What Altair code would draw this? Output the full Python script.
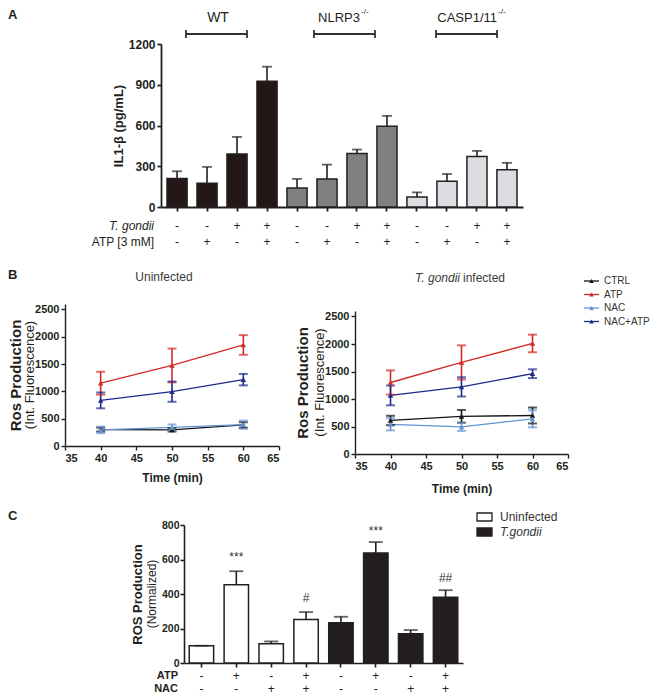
import altair as alt
import pandas as pd

FONT = "Liberation Sans, Arial, Helvetica, sans-serif"
INK = "#231f20"

# ---------------- Panel A data ----------------
a_ids = ["WT-1", "WT-2", "WT-3", "WT-4", "NL-1", "NL-2", "NL-3", "NL-4", "CA-1", "CA-2", "CA-3", "CA-4"]
a_groups = ["WT"] * 4 + ["NLRP3"] * 4 + ["CASP1/11"] * 4
a_values = [209, 175, 391, 925, 140, 207, 393, 595, 74, 189, 371, 275]
a_err = [54, 120, 125, 108, 67, 105, 30, 76, 34, 54, 42, 50]
a_tgondii = ["-", "-", "+", "+", "-", "-", "+", "+", "-", "-", "+", "+"]
a_atp = ["-", "+", "-", "+", "-", "+", "-", "+", "-", "+", "-", "+"]
a_colors = ["#231815", "#808080", "#dcdde2"]
a_ticks = [0, 300, 600, 900, 1200]

# ---------------- Panel B data ----------------
b_series = ["CTRL", "ATP", "NAC", "NAC+ATP"]
b_colors = ["#151515", "#d22b26", "#6393d6", "#1c2a8a"]
b_times = [40, 50, 60]
b_xticks = [35, 40, 45, 50, 55, 60, 65]
b_yticks = [0, 500, 1000, 1500, 2000, 2500]
b_uninf_ctrl = [300, 295, 385]
b_uninf_ctrl_err = [35, 30, 50]
b_uninf_atp = [1150, 1475, 1850]
b_uninf_atp_err = [210, 310, 180]
b_uninf_nac = [295, 340, 390]
b_uninf_nac_err = [60, 55, 75]
b_uninf_nacatp = [835, 995, 1215]
b_uninf_nacatp_err = [145, 185, 105]
b_inf_ctrl = [610, 685, 700]
b_inf_ctrl_err = [85, 115, 145]
b_inf_atp = [1300, 1665, 2010]
b_inf_atp_err = [220, 310, 160]
b_inf_nac = [540, 495, 640]
b_inf_nac_err = [110, 75, 155]
b_inf_nacatp = [1065, 1220, 1460]
b_inf_nacatp_err = [180, 175, 80]

# ---------------- Panel C data ----------------
c_ids = ["C1", "C2", "C3", "C4", "C5", "C6", "C7", "C8"]
c_infection = ["Uninfected"] * 4 + ["T.gondii"] * 4
c_values = [100, 453, 112, 252, 233, 638, 170, 381]
c_err = [0, 79, 13, 43, 35, 63, 21, 41]
c_atp = ["-", "+", "-", "+", "-", "+", "-", "+"]
c_nac = ["-", "-", "+", "+", "-", "-", "+", "+"]
c_marks = ["", "***", "", "#", "", "***", "", "##"]
c_mark_y = [0, 612, 0, 378, 0, 766, 0, 494]
c_ticks = [0, 200, 400, 600, 800]


def txt(s, x, y, size=12, weight="normal", style="normal", align="center",
        baseline="middle", color=INK, angle=0):
    return alt.Chart(pd.DataFrame({"t": [s]})).mark_text(
        font=FONT, fontSize=size, fontWeight=weight, fontStyle=style,
        align=align, baseline=baseline, color=color, angle=angle
    ).encode(x=alt.value(x), y=alt.value(y), text="t:N")


def seg(x1, x2, y1, y2, width=1.8, color="#333333"):
    return alt.Chart(pd.DataFrame({"a": [0]})).mark_rule(
        strokeWidth=width, color=color
    ).encode(x=alt.value(x1), x2=alt.value(x2), y=alt.value(y1), y2=alt.value(y2))


def spacer(w, h, letter="", ly=0):
    return txt(letter, 0, ly, size=13, weight="bold", align="left",
               baseline="top").properties(width=w, height=h)


IND = dict(fill="independent", stroke="independent", color="independent",
           x="independent", y="independent")
INDL = dict(fill="independent", stroke="independent", color="independent")

# ================= Panel A =================
AW, AH = 362, 163
dfA = pd.DataFrame({"id": a_ids, "group": a_groups, "value": a_values,
                    "err": a_err, "tg": a_tgondii, "atp": a_atp})
dfA["top"] = dfA["value"] + dfA["err"]

xA = alt.X("id:N", sort=a_ids, title=None,
           scale=alt.Scale(paddingInner=0.33, paddingOuter=0.2),
           axis=alt.Axis(labels=False, ticks=True, tickSize=4, tickWidth=1.8,
                         domainWidth=1.8))
xA2 = alt.X("id:N", sort=a_ids)
yA = alt.Y("value:Q", scale=alt.Scale(domain=[0, 1200]),
           axis=alt.Axis(values=a_ticks, tickCount=len(a_ticks), format="d",
                         title="IL1-β (pg/mL)", labelOverlap=False,
                         titleFontSize=13, titleX=-43, titleY=AH / 2,
                         titleAlign="center", titleBaseline="middle",
                         labelFontSize=12, tickSize=4, labelPadding=2,
                         domainWidth=1.8, tickWidth=1.8))

barsA = alt.Chart(dfA).mark_bar(stroke=INK, strokeWidth=1.5).encode(
    x=xA, y=yA,
    fill=alt.Fill("group:N", scale=alt.Scale(domain=["WT", "NLRP3", "CASP1/11"],
                                             range=a_colors), legend=None))
errA = alt.Chart(dfA).mark_rule(color=INK, strokeWidth=1.6).encode(
    x=xA2, y="value:Q", y2="top:Q")
capA = alt.Chart(dfA).mark_tick(color=INK, thickness=1.8, size=10,
                                orient="horizontal").encode(x=xA2, y="top:Q")
tgA = alt.Chart(dfA).mark_text(font=FONT, fontSize=12, color=INK).encode(
    x=xA2, y=alt.value(AH + 19), text="tg:N")
atpA = alt.Chart(dfA).mark_text(font=FONT, fontSize=12, color=INK).encode(
    x=xA2, y=alt.value(AH + 35), text="atp:N")

panelA = alt.layer(
    barsA, errA, capA, tgA, atpA,
    txt("T. gondii", -7, AH + 19, size=12, style="italic", align="right"),
    txt("ATP [3 mM]", -7, AH + 35, size=12, align="right"),
    txt("WT", 57, -26, size=14),
    txt("NLRP3", 199, -26, size=13, align="right"),
    txt("-/-", 200, -32, size=8, align="left"),
    txt("CASP1/11", 336, -26, size=13, align="right"),
    txt("-/-", 337, -32, size=8, align="left"),
    seg(25, 86, -10, -10), seg(25, 25, -14, -6), seg(86, 86, -14, -6),
    seg(153, 214, -10, -10), seg(153, 153, -14, -6), seg(214, 214, -14, -6),
    seg(275, 336, -10, -10), seg(275, 275, -14, -6), seg(336, 336, -14, -6),
).properties(width=AW, height=AH)


# ================= Panel B =================
CS = alt.Scale(domain=b_series, range=b_colors)


def legend_layers(x0, y0, dy):
    layers = []
    for i, s in enumerate(b_series):
        d = pd.DataFrame({"series": [s]})
        yy = y0 + i * dy
        layers.append(alt.Chart(d).mark_rule(strokeWidth=1.3).encode(
            x=alt.value(x0), x2=alt.value(x0 + 15), y=alt.value(yy),
            stroke=alt.Stroke("series:N", scale=CS, legend=None)))
        layers.append(alt.Chart(d).mark_point(shape="triangle-up", filled=True,
                                              size=22, opacity=1).encode(
            x=alt.value(x0 + 7.5), y=alt.value(yy),
            fill=alt.Fill("series:N", scale=CS, legend=None)))
        layers.append(alt.Chart(d).mark_text(font=FONT, fontSize=10, color="#333333",
                                             align="left", baseline="middle").encode(
            x=alt.value(x0 + 20), y=alt.value(yy), text="series:N"))
    return layers


def ros_panel(vals, errs, width, height, yrange, title_x, sub_x, title_y_off, legend):
    rows = []
    for s in b_series:
        for t, v, e in zip(b_times, vals[s], errs[s]):
            rows.append({"series": s, "time": t, "value": v,
                         "lo": v - e, "hi": v + e})
    df = pd.DataFrame(rows)
    ymid = (yrange[0] + yrange[1]) / 2
    yscale = alt.Scale(domain=[0, 2500], range=yrange)
    x = alt.X("time:Q", scale=alt.Scale(domain=[35, 65], nice=False),
              axis=alt.Axis(values=b_xticks, tickCount=len(b_xticks),
                            title="Time (min)", labelOverlap=False,
                            titleFontSize=12, titleY=title_y_off,
                            titleBaseline="middle", labelFontSize=11,
                            tickSize=4, labelPadding=2, domainWidth=1.4,
                            tickWidth=1.4))
    y = alt.Y("value:Q", scale=yscale,
              axis=alt.Axis(values=b_yticks, tickCount=len(b_yticks), format="d",
                            labelOverlap=False,
                            title="Ros Production", titleFontSize=15,
                            titleX=title_x, titleY=ymid, titleAlign="center",
                            titleBaseline="middle", labelFontSize=11,
                            tickSize=4, labelPadding=2, domainWidth=1.4,
                            tickWidth=1.4))
    line = alt.Chart(df).mark_line(strokeWidth=1.3).encode(
        x=x, y=y, stroke=alt.Stroke("series:N", scale=CS, legend=None),
        detail="series:N")
    rule = alt.Chart(df).mark_rule(strokeWidth=1.6).encode(
        x="time:Q", y="lo:Q", y2="hi:Q",
        stroke=alt.Stroke("series:N", scale=CS, legend=None))
    cap_lo = alt.Chart(df).mark_tick(thickness=2, size=9, orient="horizontal").encode(
        x="time:Q", y="lo:Q", color=alt.Color("series:N", scale=CS, legend=None))
    cap_hi = alt.Chart(df).mark_tick(thickness=2, size=9, orient="horizontal").encode(
        x="time:Q", y="hi:Q", color=alt.Color("series:N", scale=CS, legend=None))
    pts = alt.Chart(df).mark_point(shape="triangle-up", filled=True, size=30,
                                   opacity=1).encode(
        x="time:Q", y="value:Q",
        fill=alt.Fill("series:N", scale=CS, legend=None))
    sub = txt("(Int. Fluorescence)", sub_x, ymid, size=13, angle=270)
    layers = [line, rule, cap_lo, cap_hi, pts, sub]
    if legend:
        layers += legend_layers(width + 16, -23, 13.5)
    return alt.layer(*layers).properties(width=width, height=height)


uninf_vals = {"CTRL": b_uninf_ctrl, "ATP": b_uninf_atp, "NAC": b_uninf_nac,
              "NAC+ATP": b_uninf_nacatp}
uninf_errs = {"CTRL": b_uninf_ctrl_err, "ATP": b_uninf_atp_err,
              "NAC": b_uninf_nac_err, "NAC+ATP": b_uninf_nacatp_err}
inf_vals = {"CTRL": b_inf_ctrl, "ATP": b_inf_atp, "NAC": b_inf_nac,
            "NAC+ATP": b_inf_nacatp}
inf_errs = {"CTRL": b_inf_ctrl_err, "ATP": b_inf_atp_err, "NAC": b_inf_nac_err,
            "NAC+ATP": b_inf_nacatp_err}

panelB1 = alt.layer(
    ros_panel(uninf_vals, uninf_errs, 214, 142, [142, 0], -49.5, -35.5, 31, False),
    txt("Uninfected", 99, -27, size=12, color="#3a3a3a"),
)
panelB2 = alt.layer(
    ros_panel(inf_vals, inf_errs, 213, 150, [150, 7], -53, -35, 34, True),
    txt("T. gondii", 105, -26, size=12, style="italic", align="right", color="#3a3a3a"),
    txt("infected", 108, -26, size=12, align="left", color="#3a3a3a"),
)

# ================= Panel C =================
CW, CH = 279, 138
dfC = pd.DataFrame({"id": c_ids, "inf": c_infection, "value": c_values,
                    "err": c_err, "atp": c_atp, "nac": c_nac,
                    "mark": c_marks, "my": c_mark_y})
dfC["top"] = dfC["value"] + dfC["err"]
xC = alt.X("id:N", sort=c_ids, title=None,
           scale=alt.Scale(paddingInner=0.3, paddingOuter=0.15),
           axis=alt.Axis(labels=False, ticks=True, tickSize=4, tickWidth=1.6,
                         domainWidth=1.6))
xC2 = alt.X("id:N", sort=c_ids)
yC = alt.Y("value:Q", scale=alt.Scale(domain=[0, 800]),
           axis=alt.Axis(values=c_ticks, tickCount=len(c_ticks), format="d",
                         labelOverlap=False,
                         title="ROS Production",
                         titleFontSize=13, titleX=-47, titleY=CH / 2,
                         titleAlign="center", titleBaseline="middle",
                         labelFontSize=10.5, tickSize=4, labelPadding=1,
                         domainWidth=1.6, tickWidth=1.6))
barsC = alt.Chart(dfC).mark_bar(stroke=INK, strokeWidth=1.5).encode(
    x=xC, y=yC,
    fill=alt.Fill("inf:N", scale=alt.Scale(domain=["Uninfected", "T.gondii"],
                                           range=["#ffffff", INK]), legend=None))
errC = alt.Chart(dfC).mark_rule(color=INK, strokeWidth=1.6).encode(
    x=xC2, y="value:Q", y2="top:Q")
capC = alt.Chart(dfC).mark_tick(color=INK, thickness=1.8, size=14,
                                orient="horizontal").encode(x=xC2, y="top:Q")
markC = alt.Chart(dfC).mark_text(font=FONT, fontSize=12, color="#333333",
                                 baseline="middle").encode(
    x=xC2, y="my:Q", text="mark:N")
atpC = alt.Chart(dfC).mark_text(font=FONT, fontSize=12, color=INK).encode(
    x=xC2, y=alt.value(CH + 13), text="atp:N")
nacC = alt.Chart(dfC).mark_text(font=FONT, fontSize=12, color=INK).encode(
    x=xC2, y=alt.value(CH + 26), text="nac:N")

legC_box1 = alt.Chart(pd.DataFrame({"a": [0]})).mark_rect(
    fill="#ffffff", stroke=INK, strokeWidth=1.3).encode(
    x=alt.value(293), x2=alt.value(308), y=alt.value(-12), y2=alt.value(-4))
legC_box2 = alt.Chart(pd.DataFrame({"a": [0]})).mark_rect(
    fill=INK, stroke=INK, strokeWidth=1.3).encode(
    x=alt.value(293), x2=alt.value(308), y=alt.value(3), y2=alt.value(11))

panelC = alt.layer(
    barsC, errC, capC, markC, atpC, nacC,
    txt("ATP", -6, CH + 13, size=11, weight="bold", align="right"),
    txt("NAC", -6, CH + 26, size=11, weight="bold", align="right"),
    txt("(Normalized)", -32, CH / 2, size=12, angle=270),
    legC_box1, legC_box2,
    txt("Uninfected", 316, -8, size=12, align="left", color="#333333"),
    txt("T.gondii", 316, 7, size=12, style="italic", align="left", color="#333333"),
).properties(width=CW, height=CH)

rowA = alt.hconcat(spacer(153, 225, "A", -35), panelA, spacing=0,
                   bounds="flush").resolve_scale(**IND).resolve_legend(**INDL)
rowB = alt.hconcat(spacer(57, 206, "B", -35), panelB1, spacer(76, 1), panelB2,
                   spacing=0, bounds="flush").resolve_scale(**IND).resolve_legend(**INDL)
rowC = alt.hconcat(spacer(176, 138, "C", -15), panelC, spacing=0,
                   bounds="flush").resolve_scale(**IND).resolve_legend(**INDL)

chart = alt.vconcat(rowA, rowB, rowC, spacing=0).resolve_scale(
    **IND).resolve_legend(**INDL).configure_view(stroke=None).configure_axis(
    labelFont=FONT, titleFont=FONT, labelFontWeight="bold",
    titleFontWeight="bold", grid=False, domainColor=INK, tickColor=INK,
    labelColor=INK, titleColor=INK
).properties(padding=0)

chart.save("out.html", embed_options={"renderer": "svg", "actions": False})
